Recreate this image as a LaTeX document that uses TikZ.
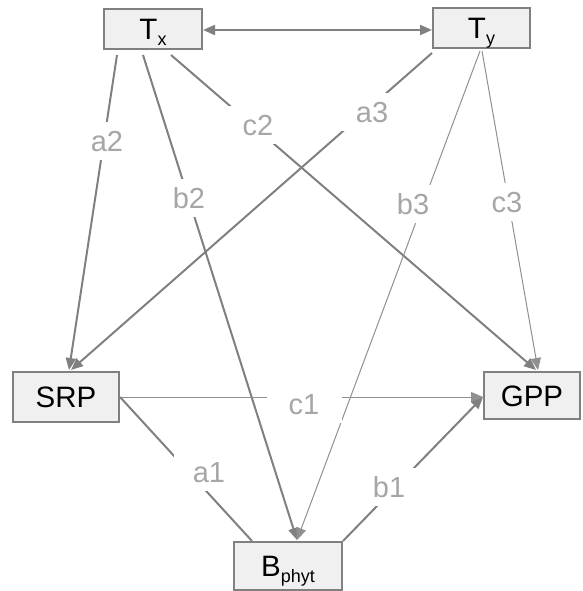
\documentclass[tikz,border=0pt]{standalone}
\usepackage{fontspec}
\setmainfont{Liberation Sans}
\usetikzlibrary{arrows.meta,calc}

\definecolor{boxfill}{HTML}{F0F0F0}
\definecolor{boxline}{HTML}{808080}
\definecolor{edgecol}{HTML}{808080}
\definecolor{thincol}{HTML}{909090}
\definecolor{labcol}{HTML}{A6A6A6}

\newcommand{\sbx}[1]{\raisebox{-6pt}{\fontsize{18}{18}\selectfont #1}}

\tikzset{
  varbox/.style={draw=boxline, line width=2pt, fill=boxfill, inner sep=0pt,
    font=\fontsize{29.5}{29.5}\selectfont, text height=21pt, text depth=0pt},
  pathlab/.style={fill=white, text=labcol, inner sep=0pt, minimum width=70pt,
    minimum height=38pt, font=\fontsize{29}{29}\selectfont,
    text height=20.8pt, text depth=0pt},
  tip/.style={-{Triangle[length=12pt,width=10pt]}},
  heavy/.style={draw=edgecol, line width=2pt},
  light/.style={draw=thincol, line width=1pt},
}

\begin{document}
\begin{tikzpicture}[x=1pt,y=-1pt]
\useasboundingbox (0,0) rectangle (582,591);

% variables
\node[varbox, minimum width=98pt, minimum height=40pt] (Tx) at (153,29) {T\sbx{x}};
\node[varbox, minimum width=97pt, minimum height=40pt] (Ty) at (481.5,28) {T\sbx{y}};
\node[varbox, minimum width=106pt, minimum height=50pt] (SRP) at (66,397) {SRP};
\node[varbox, minimum width=96pt, minimum height=47pt] (GPP) at (532,395.5) {GPP};
\node[varbox, minimum width=108pt, minimum height=48pt] (B) at (288,566) {B\sbx{phyt}};

% end points on the boxes
\coordinate (a2s) at ($(Tx.south)+(-36,5)$);
\coordinate (b2s) at ($(Tx.south)+(-10,5)$);
\coordinate (c2s) at ($(Tx.south)+(18,5)$);
\coordinate (a3s) at ($(Ty.south west)+(0,4)$);
\coordinate (b3s) at ($(Ty.south)+(-1.5,2)$);
\coordinate (c3s) at ($(Ty.south)+(0.5,2)$);
\coordinate (a2e) at ($(SRP.north)+(3,-1)$);
\coordinate (a3e) at ($(SRP.north)+(5,-1)$);
\coordinate (c2e) at ($(GPP.north)+(4,-1)$);
\coordinate (c3e) at ($(GPP.north)+(6,-1)$);
\coordinate (gw) at ($(GPP.west)+(0,1.5)$);
\coordinate (bn) at ($(B.north)+(9,-1)$);
\coordinate (a1e) at ($(B.north)+(-36,0)$);
\coordinate (b1s) at ($(B.north)+(55,0)$);

% paths
\draw[heavy, {Triangle[length=12pt,width=10pt]}-{Triangle[length=12pt,width=10pt]}]
  ($(Tx.east)+(0,1)$) -- ($(Ty.west)+(0,2)$);
\draw[heavy, tip] (a2s) -- (a2e);
\draw[heavy, tip] (b2s) -- (bn);
\draw[heavy, tip] (c2s) -- (c2e);
\draw[heavy, tip] (a3s) -- (a3e);
\draw[light, tip] (b3s) -- (bn);
\draw[light, tip] (c3s) -- (c3e);
\draw[light, tip] (SRP.east) -- (gw);
\draw[heavy] (SRP.east) -- (a1e);
\draw[heavy, tip] (b1s) -- (gw);

% path coefficients
\node[pathlab] (la2) at (107,141) {a2};
\node[pathlab] (lb2) at (189,198) {b2};
\node[pathlab] (lc2) at (258,125) {c2};
\node[pathlab] (la3) at (372,112) {a3};
\node[pathlab] (lb3) at (413,204) {b3};
\node[pathlab] (lc3) at (507,202) {c3};
\node[pathlab, minimum width=75pt] (lc1) at (304,404) {c1};
\node[pathlab] (la1) at (209,472) {a1};
\node[pathlab] (lb1) at (389,487) {b1};
\end{tikzpicture}
\end{document}
